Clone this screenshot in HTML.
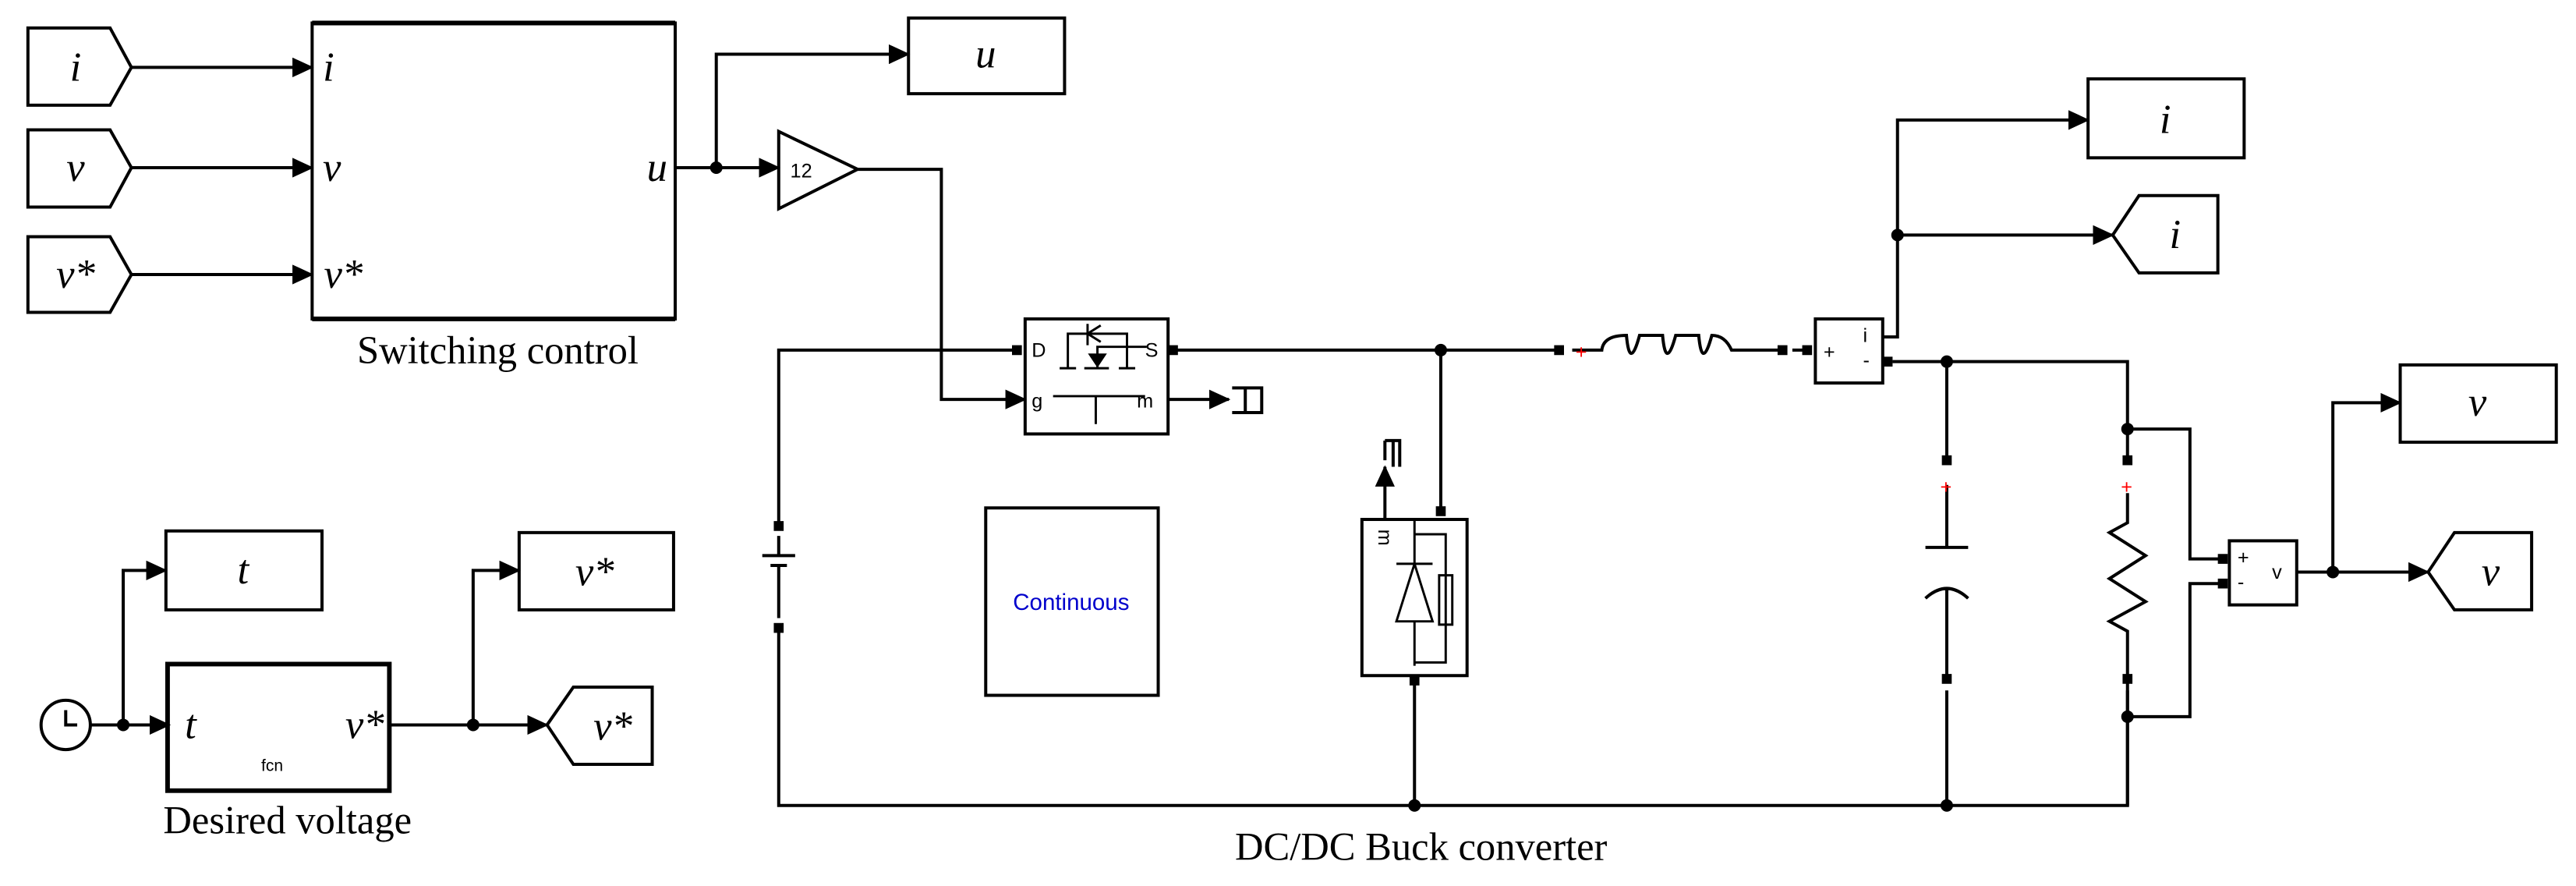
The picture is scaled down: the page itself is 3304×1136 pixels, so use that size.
<!DOCTYPE html>
<html><head><meta charset="utf-8"><style>html,body{margin:0;padding:0;background:#fff}svg{display:block}</style></head><body>
<svg width="3304" height="1136" viewBox="0 0 1568 539" preserveAspectRatio="none" xmlns="http://www.w3.org/2000/svg">
<defs><marker id="a" markerWidth="13" markerHeight="12" refX="12" refY="6" orient="auto" markerUnits="userSpaceOnUse"><path d="M0,0 L13,6 L0,12 z" fill="#000"/></marker></defs>
<g fill="none" stroke="#000" stroke-width="1.9" font-family="Liberation Serif, serif">
<path d="M17,17 H67 L80,41 L67,64 H17 z"/>
<path d="M17,79 H67 L80,102 L67,126 H17 z"/>
<path d="M17,144 H67 L80,167 L67,190 H17 z"/>
<path d="M80,41 H190" marker-end="url(#a)"/>
<path d="M80,102 H190" marker-end="url(#a)"/>
<path d="M80,167 H190" marker-end="url(#a)"/>
<rect x="190" y="14" width="221" height="180"/>
<path d="M190,14 H411 M190,194 H411" stroke-width="2.8"/>
<path d="M411,102 H474" marker-end="url(#a)"/>
<path d="M436,102 V33 H553" marker-end="url(#a)"/>
<rect x="553" y="11" width="95" height="46"/>
<path d="M474,80 L522,103 L474,127 z"/>
<path d="M522,103 H573 V243 H624" marker-end="url(#a)"/>
<rect x="624" y="194" width="87" height="70"/>
<path d="M650,224 V203 H686 V224 M645,224 H655 M660,224 H675 M681,224 H691 M668,224 V211 H698 M641,241 H697 M667,241 V258 M662,197 V210 M662,203 L670,198 M662,203 L670,208" stroke-width="1.4"/>
<path d="M664,216 L672,216 L668,222 z" fill="#000"/>
<path d="M711,243 H748" marker-end="url(#a)"/>
<path d="M750,236 H768 V251 H750 M758,236 V251"/>
<path d="M616,213 H474 V320 M474,382 V490 H1295 V413"/>
<path d="M711,213 H949 M877,213 V311 M861,416 V490"/>
<path d="M957,213 H975 Q976,204 990,204 Q992,226 998,204 Q1010,204 1012,204 Q1014,226 1020,204 Q1032,204 1034,204 Q1036,226 1042,204 Q1050,204 1054,213 H1085 M1091,213 H1099"/>
<rect x="1105" y="194" width="41" height="39"/>
<path d="M1146,205 H1155 V73 H1271" marker-end="url(#a)"/>
<path d="M1155,143 H1286" marker-end="url(#a)"/>
<rect x="1271" y="48" width="95" height="48"/>
<path d="M1286,143 L1302,119 H1350 V166 H1302 z"/>
<path d="M1152,220 H1295 V280 M1185,220 V280 M1185,295 V333 M1172,333 H1198 M1172,364 Q1185,352 1198,364 M1185,358 V413 M1185,420 V490"/>
<path d="M1295,300 V318 L1284,324 L1306,338 L1284,352 L1306,366 L1284,378 L1295,384 V413 M1295,420 V490"/>
<path d="M1295,261 H1333 V340 H1355 M1295,436 H1333 V355 H1355"/>
<rect x="1357" y="329" width="41" height="39"/>
<path d="M1398,348 H1478" marker-end="url(#a)"/>
<path d="M1420,348 V245 H1461" marker-end="url(#a)"/>
<rect x="1461" y="222" width="95" height="47"/>
<path d="M1478,348 L1494,324 H1541 V371 H1494 z"/>
<path d="M474,326 V338 M464,338 H484 M469,344 H479 M474,344 V376"/>
<rect x="829" y="316" width="64" height="95"/>
<path d="M843,316 V284" marker-end="url(#a)"/>
<path d="M843,268 V280 M843,268 H852 V284 M848,268 V284"/>
<path d="M861,316 V343 M850,343 H872 M861,343 L850,378 H872 z M861,378 V405 M861,403 H880 V325 H861 M876,350 H884 V380 H876 z" stroke-width="1.4"/>
<rect x="600" y="309" width="105" height="114"/>
<circle cx="40" cy="441" r="15"/>
<path d="M40,432 V441 H47"/>
<path d="M55,441 H103" marker-end="url(#a)"/>
<path d="M75,441 V347 H101" marker-end="url(#a)"/>
<rect x="101" y="323" width="95" height="48"/>
<rect x="102" y="404" width="135" height="77" stroke-width="2.8"/>
<path d="M237,441 H333" marker-end="url(#a)"/>
<path d="M288,441 V347 H316" marker-end="url(#a)"/>
<rect x="316" y="324" width="94" height="47"/>
<path d="M333,441 L349,418 H397 V465 H349 z"/>
</g>
<g fill="#000">
<circle cx="436" cy="102" r="3.8"/><circle cx="877" cy="213" r="3.8"/><circle cx="861" cy="490" r="3.8"/>
<circle cx="1155" cy="143" r="3.8"/><circle cx="1185" cy="220" r="3.8"/><circle cx="1185" cy="490" r="3.8"/>
<circle cx="1295" cy="261" r="3.8"/><circle cx="1295" cy="436" r="3.8"/><circle cx="1420" cy="348" r="3.8"/>
<circle cx="75" cy="441" r="3.8"/><circle cx="288" cy="441" r="3.8"/>
<rect x="616" y="210" width="6" height="6"/><rect x="711" y="210" width="6" height="6"/><rect x="946" y="210" width="6" height="6"/>
<rect x="1082" y="210" width="6" height="6"/><rect x="1097" y="210" width="6" height="6"/><rect x="1146" y="217" width="6" height="6"/>
<rect x="471" y="317" width="6" height="6"/><rect x="471" y="379" width="6" height="6"/><rect x="874" y="308" width="6" height="6"/><rect x="858" y="411" width="6" height="6"/>
<rect x="1182" y="277" width="6" height="6"/><rect x="1182" y="410" width="6" height="6"/><rect x="1292" y="277" width="6" height="6"/><rect x="1292" y="410" width="6" height="6"/>
<rect x="1350" y="337" width="6" height="6"/><rect x="1350" y="352" width="6" height="6"/>
</g>
<g fill="red" font-family="Liberation Sans, sans-serif" font-size="12"><text x="959" y="218">+</text><text x="1181" y="300">+</text><text x="1291" y="300">+</text></g>
<g font-family="Liberation Serif, serif" font-style="italic" font-size="25" fill="#000" text-anchor="middle">
<text x="46" y="49">i</text><text x="46" y="110">v</text><text x="46" y="175">v*</text>
<text x="600" y="41">u</text><text x="1318" y="81">i</text><text x="1324" y="151">i</text>
<text x="1508" y="253">v</text><text x="1516" y="356">v</text>
<text x="148" y="355">t</text><text x="362" y="356">v*</text><text x="373" y="450">v*</text>
<text x="116" y="449">t</text><text x="222" y="449">v*</text>
<text x="200" y="49">i</text><text x="202" y="110">v</text><text x="209" y="175">v*</text><text x="400" y="110">u</text>
</g>
<g font-family="Liberation Serif, serif" font-size="24" fill="#000" text-anchor="middle">
<text x="303" y="221">Switching control</text><text x="175" y="507">Desired voltage</text><text x="865" y="523">DC/DC Buck converter</text>
</g>
<g font-family="Liberation Sans, sans-serif" font-size="12" fill="#000">
<text x="481" y="108">12</text><text x="628" y="217">D</text><text x="697" y="217">S</text><text x="628" y="248">g</text><text x="692" y="248">m</text>
<text x="1110" y="218">+</text><text x="1134" y="208">i</text><text x="1134" y="223">-</text>
<text x="1362" y="343">+</text><text x="1362" y="358">-</text><text x="1383" y="352">v</text>
<text x="159" y="469" font-size="10">fcn</text>
<text x="839" y="330" transform="rotate(90 843 326)">m</text>
</g>
<text x="652" y="371" font-family="Liberation Sans, sans-serif" font-size="14" fill="#0000cc" text-anchor="middle">Continuous</text>
</svg>
</body></html>
